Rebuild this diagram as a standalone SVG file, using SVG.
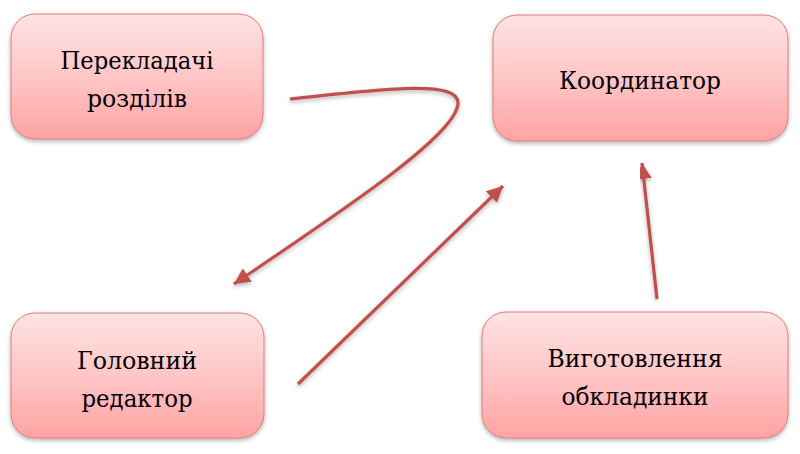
<svg xmlns="http://www.w3.org/2000/svg" width="800" height="454" viewBox="0 0 800 454">
<defs>
<linearGradient id="g" x1="0" y1="0" x2="0" y2="1">
<stop offset="0" stop-color="#FFE3E3"/>
<stop offset="0.5" stop-color="#FFC6C6"/>
<stop offset="1" stop-color="#FFA3A3"/>
</linearGradient>
<filter id="sh" x="-10%" y="-10%" width="120%" height="130%">
<feDropShadow dx="0" dy="2" stdDeviation="2" flood-color="#000" flood-opacity="0.3"/>
</filter>
<marker id="ah" markerUnits="userSpaceOnUse" markerWidth="18" markerHeight="16" refX="16" refY="8" orient="auto">
<path d="M0,0 L16,8 L0,16 Z" fill="#C0504D"/>
</marker>
</defs>
<style>
.box{fill:url(#g);stroke:#E07B7B;stroke-width:1;filter:url(#sh)}
.t{font-family:'DejaVu Serif','Liberation Serif',serif;font-size:25px;fill:#000;text-anchor:middle}
.c{fill:none;stroke:#C0504D;stroke-width:3.2;marker-end:url(#ah);filter:url(#sh)}
</style>
<g id="n1">
<rect class="box" x="11" y="14" width="252" height="125" rx="24"/>
<text class="t" x="137" y="69" textLength="153" lengthAdjust="spacingAndGlyphs">Перекладачі</text>
<text class="t" x="137" y="107" textLength="100" lengthAdjust="spacingAndGlyphs">розділів</text>
</g>
<g id="n2">
<rect class="box" x="493" y="15" width="295" height="126" rx="24"/>
<text class="t" x="640" y="89" textLength="162" lengthAdjust="spacingAndGlyphs">Координатор</text>
</g>
<g id="n3">
<rect class="box" x="11" y="313" width="253" height="125" rx="24"/>
<text class="t" x="137" y="369" textLength="120" lengthAdjust="spacingAndGlyphs">Головний</text>
<text class="t" x="137" y="407" textLength="111" lengthAdjust="spacingAndGlyphs">редактор</text>
</g>
<g id="n4">
<rect class="box" x="482" y="312" width="306" height="126" rx="24"/>
<text class="t" x="635" y="367" textLength="175" lengthAdjust="spacingAndGlyphs">Виготовлення</text>
<text class="t" x="635" y="405" textLength="147" lengthAdjust="spacingAndGlyphs">обкладинки</text>
</g>
<g id="connectors">
<path class="c" d="M290,99 C390,88 460,80 458,104 C455,135 354,203 234,284"/>
<path class="c" d="M298,384 L503,186"/>
<path class="c" d="M657,299 L642,163"/>
</g>
</svg>
